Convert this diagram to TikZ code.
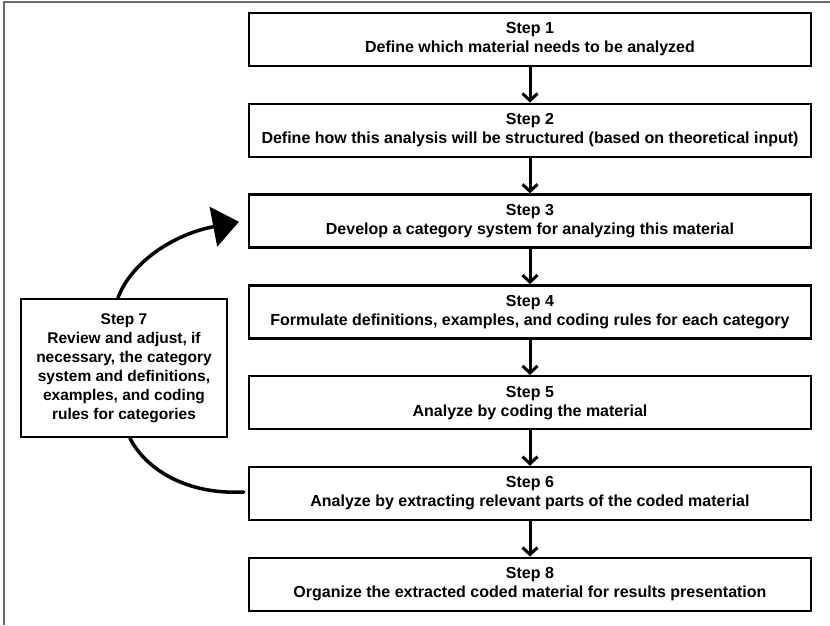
\documentclass[tikz,border=0pt]{standalone}
\usepackage{fontspec}
\setmainfont{Liberation Sans}
\usetikzlibrary{arrows.meta}
\begin{document}
\begin{tikzpicture}[x=1pt,y=-1pt,
  stepbox/.style={draw=black, line width=2.5pt, fill=white,
    minimum width=562pt, minimum height=53pt, inner sep=0pt,
    align=center, font=\bfseries\fontsize{16}{19}\selectfont},
  sidebox/.style={draw=black, line width=2.5pt, fill=white,
    minimum width=206pt, minimum height=138pt, inner sep=0pt,
    align=center, font=\bfseries\fontsize{15.5}{19}\selectfont},
  flow/.style={line width=3pt, -{Straight Barb[length=7pt,width=15pt]}},
  loop/.style={line width=3.5pt, line cap=round},
  frame/.style={draw=black!58, line width=2pt}]
\useasboundingbox (0,0) rectangle (830,625);
\draw[frame] (4,625) -- (4,2) -- (830,2);

% main column of steps
\node[stepbox] (s1) at (530,39.5)  {Step 1\\Define which material needs to be analyzed};
\node[stepbox] (s2) at (530,130.3) {Step 2\\Define how this analysis will be structured (based on theoretical input)};
\node[stepbox] (s3) at (530,221.1) {Step 3\\Develop a category system for analyzing this material};
\node[stepbox] (s4) at (530,311.9) {Step 4\\Formulate definitions, examples, and coding rules for each category};
\node[stepbox] (s5) at (530,402.7) {Step 5\\Analyze by coding the material};
\node[stepbox] (s6) at (530,493.5) {Step 6\\Analyze by extracting relevant parts of the coded material};
\node[stepbox] (s8) at (530,584.3) {Step 8\\Organize the extracted coded material for results presentation};

% feedback step
\node[sidebox] (s7) at (124,368) {Step 7\\Review and adjust, if\\necessary, the category\\system and definitions,\\examples, and coding\\rules for categories};

% straight flow arrows
\draw[flow] (s1) -- (s2);
\draw[flow] (s2) -- (s3);
\draw[flow] (s3) -- (s4);
\draw[flow] (s4) -- (s5);
\draw[flow] (s5) -- (s6);
\draw[flow] (s6) -- (s8);

% feedback loop: step 6 -> step 7 -> step 3
\draw[loop] ([xshift=-4pt,yshift=1.5pt]s6.west) .. controls (185,495) and (145,468) .. ([xshift=6pt]s7.south);
\draw[loop, -{Triangle[length=26pt,width=40pt]}, shorten >=9pt]
  ([xshift=-6pt]s7.north) .. controls (130,265) and (170,235) .. ([yshift=1pt]s3.west);
\end{tikzpicture}
\end{document}
